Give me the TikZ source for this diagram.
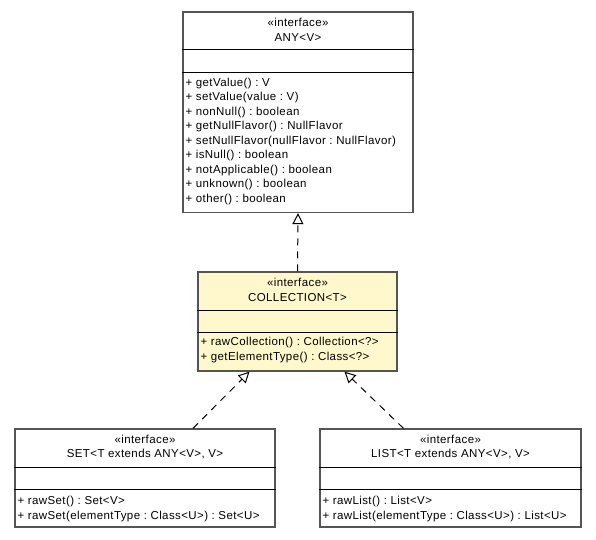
\documentclass[tikz,border=0pt]{standalone}
\usepackage{fontspec}
\setmainfont{Liberation Sans}[LetterSpace=3.5]
\usetikzlibrary{arrows.meta}
\definecolor{ifill}{HTML}{FFF8CC}
\definecolor{iframe}{HTML}{555555}
\tikzset{
  classbox/.style={rectangle, draw=iframe, line width=1.3pt, inner sep=0pt},
  compsep/.style={black, line width=1pt},
  title/.style={inner sep=0pt, font=\fontsize{11.5}{13}\selectfont},
  member/.style={anchor=west, inner sep=0pt, font=\fontsize{11.5}{13}\selectfont},
  realize/.style={line width=1pt, dash pattern=on 7pt off 6pt,
    -{Triangle[open, length=11pt, width=11pt, fill=white]}}
}
\frenchspacing
\begin{document}
\begin{tikzpicture}[x=1pt, y=-1pt]
  \useasboundingbox (0,0) rectangle (596,539);

  % 1. ANY<V>
  \node[classbox, minimum width=230pt, minimum height=200.5pt] (any) at (298,112.25) {};
  \draw[compsep] ([yshift=-38pt]any.north west) -- ([yshift=-38pt]any.north east);
  \draw[compsep] ([yshift=-61pt]any.north west) -- ([yshift=-61pt]any.north east);
  \node[title] (anyst) at ([yshift=-11pt]any.north) {«interface»};
  \node[title] (anyname) at ([yshift=-26pt]any.north) {ANY<V>};
  \foreach \m [count=\i] in {+ getValue() : V, + setValue(value : V), + nonNull() : boolean,
      + getNullFlavor() : NullFlavor, + setNullFlavor(nullFlavor : NullFlavor),
      + isNull() : boolean, + notApplicable() : boolean, + unknown() : boolean,
      + other() : boolean}
    \node[member] (anym\i) at ([xshift=3pt, yshift={-72pt-14.5pt*(\i-1)}]any.north west) {\m};

  % 2. COLLECTION<T>
  \node[classbox, fill=ifill, minimum width=199pt, minimum height=99pt] (coll) at (297.5,321.5) {};
  \draw[compsep] ([yshift=-39pt]coll.north west) -- ([yshift=-39pt]coll.north east);
  \draw[compsep] ([yshift=-61pt]coll.north west) -- ([yshift=-61pt]coll.north east);
  \node[title] (collst) at ([yshift=-11pt]coll.north) {«interface»};
  \node[title] (collname) at ([yshift=-26pt]coll.north) {COLLECTION<T>};
  \node[member] (collm1) at ([xshift=3pt, yshift=-71pt]coll.north west) {+ rawCollection() : Collection<?>};
  \node[member] (collm2) at ([xshift=3pt, yshift=-86pt]coll.north west) {+ getElementType() : Class<?>};

  % 3. SET<T extends ANY<V>, V>
  \node[classbox, minimum width=260pt, minimum height=98pt] (set) at (145,478) {};
  \draw[compsep] ([yshift=-39pt]set.north west) -- ([yshift=-39pt]set.north east);
  \draw[compsep] ([yshift=-61pt]set.north west) -- ([yshift=-61pt]set.north east);
  \node[title] (setst) at ([yshift=-11pt]set.north) {«interface»};
  \node[title] (setname) at ([yshift=-26pt]set.north) {SET<T extends ANY<V>, V>};
  \node[member] (setm1) at ([xshift=3pt, yshift=-73pt]set.north west) {+ rawSet() : Set<V>};
  \node[member] (setm2) at ([xshift=3pt, yshift=-88pt]set.north west) {+ rawSet(elementType : Class<U>) : Set<U>};

  % 4. LIST<T extends ANY<V>, V>
  \node[classbox, minimum width=261pt, minimum height=98pt] (list) at (450.5,478) {};
  \draw[compsep] ([yshift=-39pt]list.north west) -- ([yshift=-39pt]list.north east);
  \draw[compsep] ([yshift=-61pt]list.north west) -- ([yshift=-61pt]list.north east);
  \node[title] (listst) at ([yshift=-11pt]list.north) {«interface»};
  \node[title] (listname) at ([yshift=-26pt]list.north) {LIST<T extends ANY<V>, V>};
  \node[member] (listm1) at ([xshift=3pt, yshift=-73pt]list.north west) {+ rawList() : List<V>};
  \node[member] (listm2) at ([xshift=3pt, yshift=-88pt]list.north west) {+ rawList(elementType : Class<U>) : List<U>};

  % 5. realizations
  \draw[realize] (coll.north) -- (any.south);
  \draw[realize] ([xshift=48pt]set.north) -- ([xshift=-48pt]coll.south);
  \draw[realize] ([xshift=-47pt]list.north) -- ([xshift=47pt]coll.south);
\end{tikzpicture}
\end{document}
